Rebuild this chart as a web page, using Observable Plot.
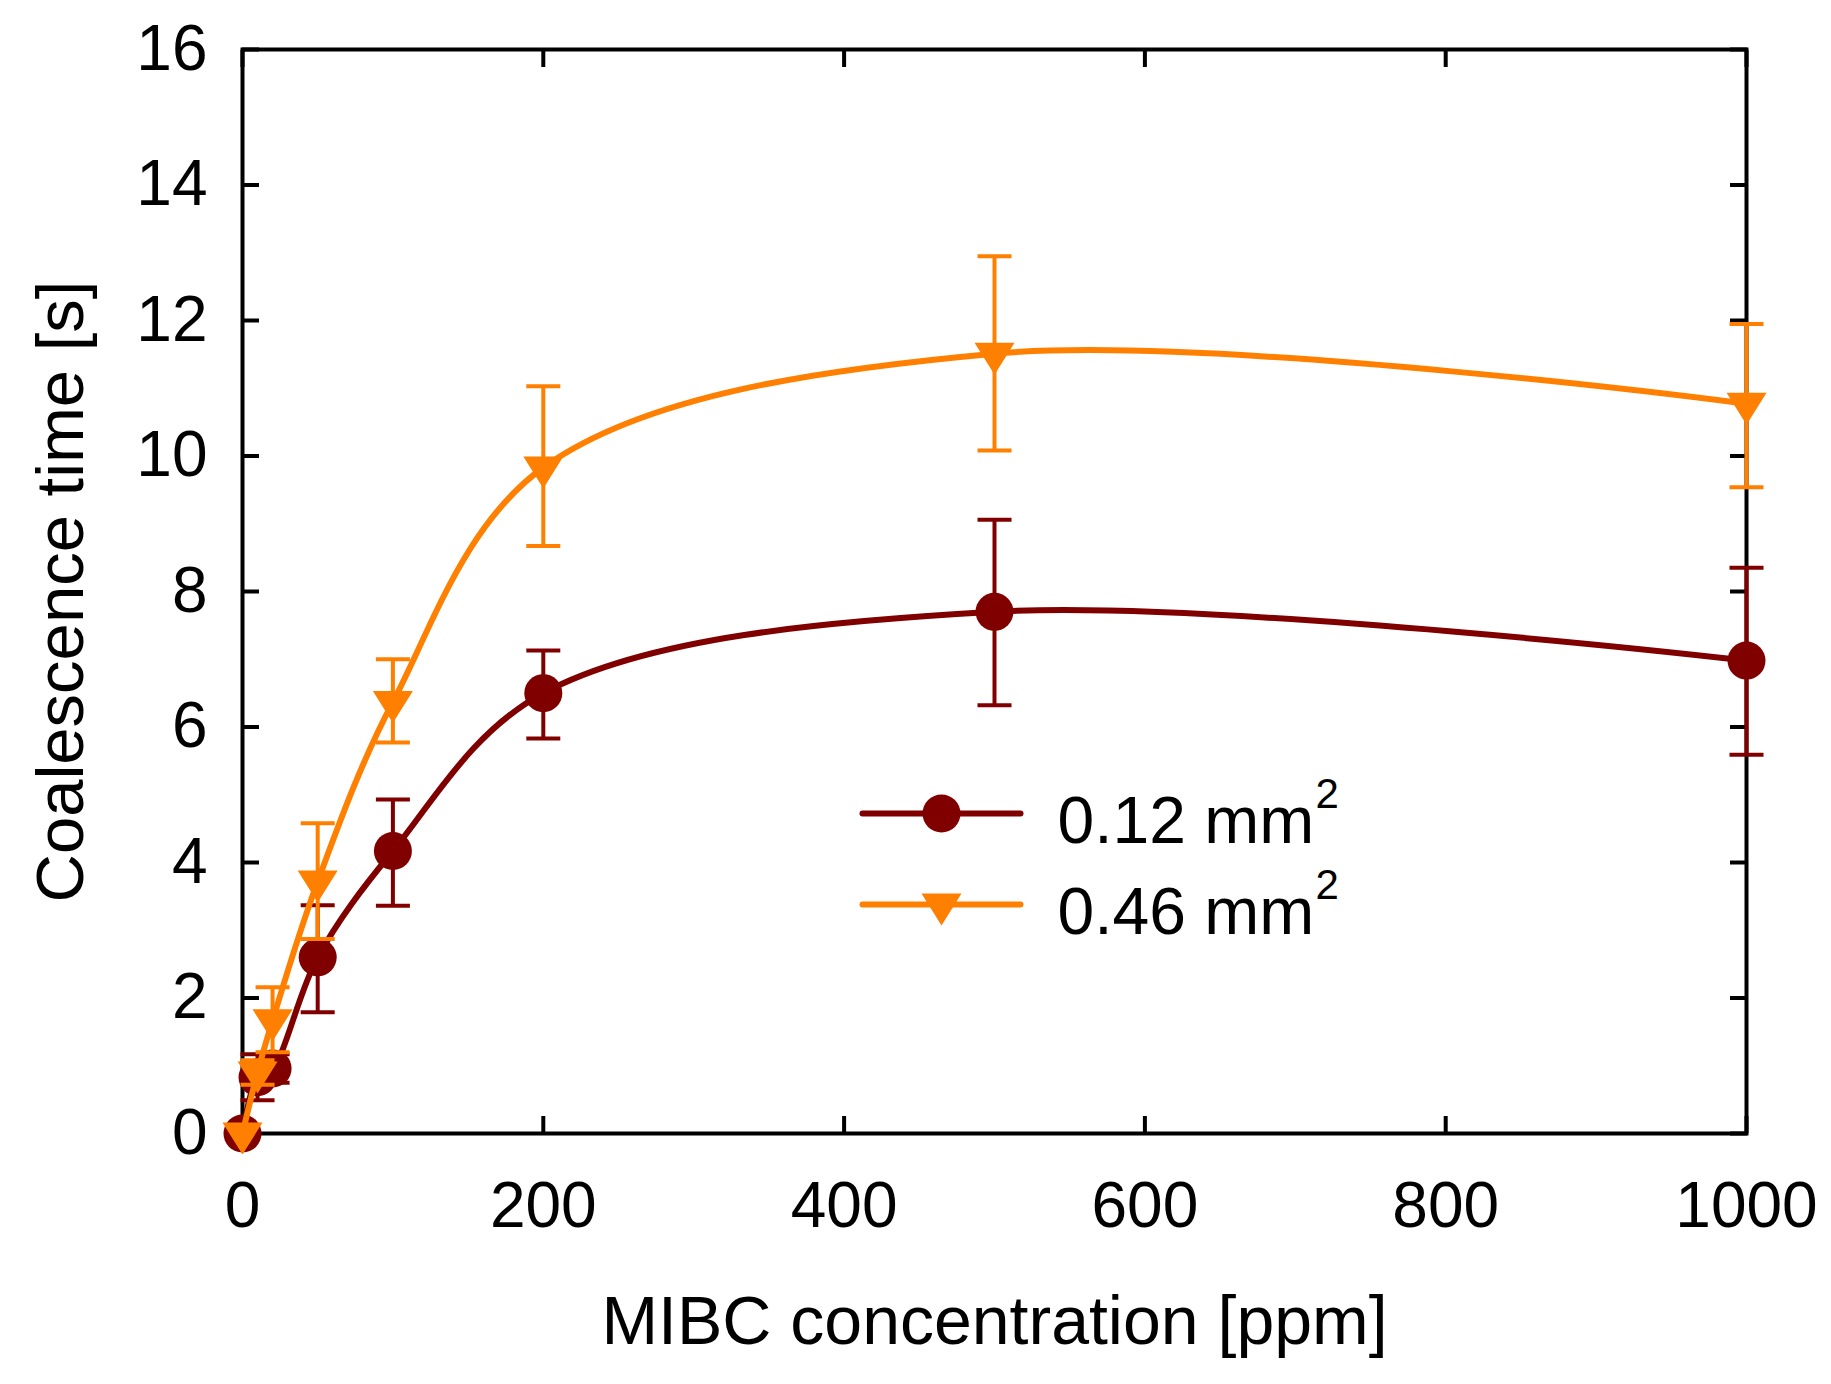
<!DOCTYPE html>
<html><head><meta charset="utf-8">
<script src="https://cdn.jsdelivr.net/npm/d3@7"></script>
<script src="https://cdn.jsdelivr.net/npm/@observablehq/plot@0.6"></script>
<style>body{margin:0;background:#fff}</style>
</head><body><div id="chart"></div>
<script>
// ---- data ----
const concentration = [0, 10, 20, 50, 100, 200, 500, 1000];
const seriesLabels = ["0.12 mm", "0.46 mm"];
const seriesColors = ["#800000", "#FF8000"];
const time012 = [0, 0.83, 0.96, 2.6, 4.17, 6.5, 7.7, 6.98];
const lo012   = [null, 0.49, 0.75, 1.79, 3.36, 5.83, 6.32, 5.59];
const hi012   = [null, 1.17, 1.17, 3.37, 4.93, 7.13, 9.06, 8.35];
const time046 = [0, 0.9, 1.67, 3.72, 6.37, 9.83, 11.51, 10.77];
const lo046   = [null, 0.72, 1.2, 2.87, 5.77, 8.67, 10.08, 9.54];
const hi046   = [null, 1.08, 2.16, 4.58, 7.0, 11.03, 12.95, 11.95];
const xTicks = [0, 200, 400, 600, 800, 1000];
const yTicks = [0, 2, 4, 6, 8, 10, 12, 14, 16];
const xLabel = "MIBC concentration [ppm]";
const yLabel = "Coalescence time [s]";

// ---- symbols ----
const capSymbol = {draw(ctx, size) { const r = Math.sqrt(size / Math.PI); ctx.moveTo(-r, 0); ctx.lineTo(r, 0); }};
const triDown = {draw(ctx, size) { const r = Math.sqrt(size / Math.PI);
  ctx.moveTo(-r, -0.55 * r); ctx.lineTo(r, -0.55 * r); ctx.lineTo(0, 1.05 * r); ctx.closePath(); }};

function rows(t, lo, hi) { return concentration.map((c, i) => ({c, t: t[i], lo: lo[i], hi: hi[i]})); }
const series = [
  {data: rows(time012, lo012, hi012), color: seriesColors[0], symbol: "circle", r: 19, label: seriesLabels[0]},
  {data: rows(time046, lo046, hi046), color: seriesColors[1], symbol: triDown, r: 20, label: seriesLabels[1]}
];

const font = "Liberation Sans, Arial, Helvetica, sans-serif";
const marks = [
  Plot.frame({stroke: "black", strokeWidth: 4}),
  Plot.axisX({anchor: "bottom", ticks: xTicks, tickSize: -17, tickPadding: 65, strokeWidth: 4,
    tickFormat: d => String(d), fontSize: 64, label: null}),
  Plot.axisX({anchor: "top", ticks: xTicks, tickSize: -17, strokeWidth: 4, tickFormat: () => "", label: null}),
  Plot.axisY({anchor: "left", ticks: yTicks, tickSize: -17, tickPadding: 52, strokeWidth: 4,
    tickFormat: d => String(d), fontSize: 64, label: null}),
  Plot.axisY({anchor: "right", ticks: yTicks, tickSize: -17, strokeWidth: 4, tickFormat: () => "", label: null}),
  Plot.text([xLabel], {frameAnchor: "bottom", dy: 210, lineAnchor: "bottom", textAnchor: "middle", fontSize: 68, fill: "black"}),
  Plot.text([yLabel], {frameAnchor: "left", dx: -160, rotate: -90, lineAnchor: "bottom", textAnchor: "middle", fontSize: 67, fill: "black"})
];

series.forEach(s => {
  const withErr = s.data.filter(d => d.lo != null);
  marks.push(
    Plot.ruleX(withErr, {x: "c", y1: "lo", y2: "hi", stroke: s.color, strokeWidth: 4}),
    Plot.dot(withErr, {x: "c", y: "lo", symbol: capSymbol, r: 17, stroke: s.color, strokeWidth: 4, fill: "none"}),
    Plot.dot(withErr, {x: "c", y: "hi", symbol: capSymbol, r: 17, stroke: s.color, strokeWidth: 4, fill: "none"}),
    Plot.line(s.data, {x: "c", y: "t", stroke: s.color, strokeWidth: 6, curve: "catmull-rom"}),
    Plot.dot(s.data, {x: "c", y: "t", symbol: s.symbol, r: s.r, fill: s.color, stroke: "none"})
  );
});

// legend inside the plot area
series.forEach((s, i) => {
  const dy = 764 + i * 91;
  marks.push(
    Plot.dot([s.label], {frameAnchor: "top-left", dx: 699, dy, symbol: capSymbol, r: 79, stroke: s.color, strokeWidth: 6, strokeLinecap: "round", fill: "none"}),
    Plot.dot([s.label], {frameAnchor: "top-left", dx: 699, dy, symbol: s.symbol, r: s.r, fill: s.color, stroke: "none"}),
    Plot.text([s.label], {frameAnchor: "top-left", dx: 815, dy: dy + 29, text: d => d, textAnchor: "start", lineAnchor: "bottom", fontSize: 66, fill: "black"}),
    Plot.text(["2"], {frameAnchor: "top-left", dx: 1073, dy: dy - 6, text: d => d, textAnchor: "start", lineAnchor: "bottom", fontSize: 42, fill: "black"})
  );
});

const chart = Plot.plot({
  width: 1831, height: 1384,
  marginLeft: 242, marginRight: 85, marginTop: 49, marginBottom: 251,
  x: {domain: [0, 1000], label: null},
  y: {domain: [0, 16], label: null},
  style: {fontFamily: font, background: "white", color: "black", overflow: "visible"},
  marks
});
document.getElementById("chart").appendChild(chart);
</script>
</body></html>
